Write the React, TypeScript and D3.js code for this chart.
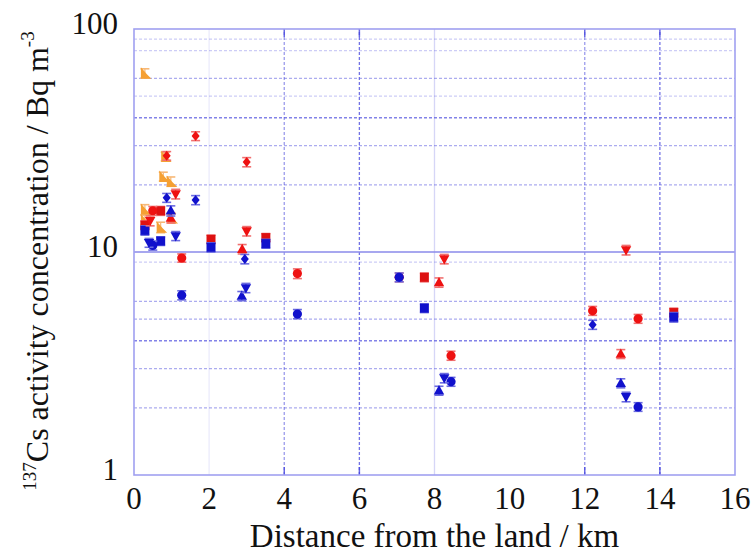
import React from 'react';
import * as d3 from 'd3';

const W = 755;
const H = 555;

// ---- data ----
const xTicks = [0, 2, 4, 6, 8, 10, 12, 14, 16];
const yTicks = [1, 10, 100];
const hGridValues = [2, 3, 4, 5, 6, 9, 20, 30, 40, 50, 60, 80, 90];
const vGridValues = [2, 4, 6, 8, 12, 14];

const orangeX = [0.29, 0.83, 0.78, 0.98, 0.29, 0.29, 0.71, 1.0];
const orangeY = [63.3, 26.8, 21.8, 20.7, 15.5, 13.9, 12.9, 14.2];
const orangeE = [3.0, 1.2, 1.0, 1.0, 0.8, 0.7, 0.7, 0.7];

const redSquareX = [0.29, 0.71, 2.05, 3.51, 7.73, 14.37];
const redSquareY = [13.2, 15.3, 11.4, 11.6, 7.7, 5.35];
const redSquareE = [0.6, 0.7, 0.5, 0.5, 0.35, 0.25];

const blueSquareX = [0.29, 0.71, 2.05, 3.51, 7.73, 14.37];
const blueSquareY = [12.5, 11.2, 10.5, 10.9, 5.6, 5.1];
const blueSquareE = [0.6, 0.5, 0.5, 0.5, 0.25, 0.25];

const redCircleX = [0.5, 1.27, 4.35, 7.06, 8.44, 12.21, 13.42];
const redCircleY = [15.3, 9.4, 8.0, 7.7, 3.43, 5.45, 5.02];
const redCircleE = [0.7, 0.4, 0.4, 0.35, 0.16, 0.25, 0.23];

const blueCircleX = [0.5, 1.27, 4.35, 7.06, 8.44, 13.42];
const blueCircleY = [10.7, 6.4, 5.27, 7.7, 2.62, 2.02];
const blueCircleE = [0.5, 0.3, 0.25, 0.35, 0.12, 0.09];

const redUpX = [0.98, 2.88, 8.12, 12.96];
const redUpY = [14.2, 10.3, 7.3, 3.49];
const redUpE = [0.7, 0.5, 0.35, 0.16];

const blueUpX = [0.98, 2.87, 8.12, 12.96];
const blueUpY = [15.3, 6.35, 2.39, 2.58];
const blueUpE = [0.8, 0.3, 0.11, 0.12];

const redDownX = [0.43, 1.11, 3.0, 8.26, 13.1];
const redDownY = [13.8, 18.2, 12.4, 9.3, 10.2];
const redDownE = [0.7, 0.9, 0.6, 0.45, 0.5];

const blueDownX = [0.4, 1.11, 2.98, 8.26, 13.1];
const blueDownY = [11.0, 11.8, 6.9, 2.72, 2.24];
const blueDownE = [0.5, 0.55, 0.33, 0.13, 0.11];

const redDiamondX = [0.87, 1.64, 3.0];
const redDiamondY = [27.0, 33.1, 25.3];
const redDiamondE = [1.2, 1.5, 1.2];

const blueDiamondX = [0.87, 1.64, 2.95, 12.21];
const blueDiamondY = [17.5, 17.1, 9.3, 4.72];
const blueDiamondE = [0.8, 0.8, 0.45, 0.22];

type Shape = 'square' | 'circle' | 'up' | 'down' | 'diamond' | 'flag';
interface Series { xs: number[]; ys: number[]; es: number[]; shape: Shape; color: string; cap: string; }

const RED = '#ee1111';
const BLUE = '#1111cc';
const ORANGE = '#f5a033';

const series: Series[] = [
  { xs: orangeX, ys: orangeY, es: orangeE, shape: 'flag', color: ORANGE, cap: '#f7b877' },
  { xs: redSquareX, ys: redSquareY, es: redSquareE, shape: 'square', color: '#dd1111', cap: '#f07070' },
  { xs: blueSquareX, ys: blueSquareY, es: blueSquareE, shape: 'square', color: BLUE, cap: '#6a6ae0' },
  { xs: redCircleX, ys: redCircleY, es: redCircleE, shape: 'circle', color: RED, cap: '#f07070' },
  { xs: redUpX, ys: redUpY, es: redUpE, shape: 'up', color: RED, cap: '#f07070' },
  { xs: redDownX, ys: redDownY, es: redDownE, shape: 'down', color: RED, cap: '#f07070' },
  { xs: redDiamondX, ys: redDiamondY, es: redDiamondE, shape: 'diamond', color: RED, cap: '#f07070' },
  { xs: blueCircleX, ys: blueCircleY, es: blueCircleE, shape: 'circle', color: BLUE, cap: '#6a6ae0' },
  { xs: blueUpX, ys: blueUpY, es: blueUpE, shape: 'up', color: BLUE, cap: '#6a6ae0' },
  { xs: blueDownX, ys: blueDownY, es: blueDownE, shape: 'down', color: BLUE, cap: '#6a6ae0' },
  { xs: blueDiamondX, ys: blueDiamondY, es: blueDiamondE, shape: 'diamond', color: BLUE, cap: '#6a6ae0' },
];

const x = d3.scaleLinear().domain([0, 16]).range([134, 735]);
const y = d3.scaleLog().domain([1, 100]).range([475, 29]);

const hOpacity = (v: number) => ([4, 40].includes(v) ? 0.75 : [90, 80, 50, 9].includes(v) ? 0.3 : 0.5);
const vOpacity = (v: number) => (v === 2 ? 0.12 : v === 8 ? 0.25 : v === 6 || v === 14 ? 0.85 : 0.6);

function marker(shape: Shape, color: string) {
  switch (shape) {
    case 'square':
      return <rect x={-4.5} y={-4.5} width={9} height={9} fill={color} />;
    case 'circle':
      return <circle r={4.6} fill={color} />;
    case 'up':
      return <path d="M0,-5.5L5.2,3.8L-5.2,3.8Z" fill={color} />;
    case 'down':
      return <path d="M0,5.5L5.2,-3.8L-5.2,-3.8Z" fill={color} />;
    case 'diamond':
      return <path d="M0,-5L4,0L0,5L-4,0Z" fill={color} />;
    case 'flag':
      return <path d="M-4,-6L-4,5.5L6.5,5.5L2,1Z" fill={color} />;
  }
}

export default function App() {
  const font = '"Liberation Serif", "Times New Roman", serif';
  return (
    <svg width={W} height={H} style={{ position: 'absolute', left: 0, top: 0, background: '#fff' }}>
      {/* grid */}
      {hGridValues.map((v) => (
        <line key={'h' + v} x1={x(0)} x2={x(16)} y1={y(v)} y2={y(v)} stroke="#5a5ae0"
          strokeOpacity={hOpacity(v)} strokeWidth={1.3} strokeDasharray="3,2" />
      ))}
      {vGridValues.map((v) => (
        <line key={'v' + v} x1={x(v)} x2={x(v)} y1={y(1)} y2={y(100)} stroke="#5a5ae0"
          strokeOpacity={vOpacity(v)} strokeWidth={1.3} strokeDasharray={v === 2 || v === 8 ? undefined : '3,2'} />
      ))}
      {[4, 6, 12, 14].map((v) => (
        <g key={'t' + v}>
          <line x1={x(v)} x2={x(v)} y1={y(100)} y2={y(100) + 8} stroke="#4444dd" strokeWidth={1.5} strokeOpacity={0.8} />
          <line x1={x(v)} x2={x(v)} y1={y(1)} y2={y(1) - 8} stroke="#4444dd" strokeWidth={1.5} strokeOpacity={0.8} />
        </g>
      ))}
      <line x1={x(0)} x2={x(16)} y1={y(10)} y2={y(10)} stroke="#8a8aea" strokeWidth={1.6} />
      <rect x={x(0)} y={y(100)} width={x(16) - x(0)} height={y(1) - y(100)} fill="none" stroke="#a0a0f0" strokeWidth={1.6} />

      {/* data */}
      {series.map((s, si) => (
        <g key={si}>
          {s.xs.map((xv, i) => {
            const cx = x(xv);
            const cy = y(s.ys[i]);
            const yt = y(s.ys[i] + s.es[i]);
            const yb = y(s.ys[i] - s.es[i]);
            return (
              <g key={i}>
                <line x1={cx} x2={cx} y1={yt} y2={yb} stroke={s.cap} strokeWidth={1.2} />
                <line x1={cx - 4.5} x2={cx + 4.5} y1={yt} y2={yt} stroke={s.cap} strokeWidth={1.6} />
                <line x1={cx - 4.5} x2={cx + 4.5} y1={yb} y2={yb} stroke={s.cap} strokeWidth={1.6} />
                <g transform={`translate(${cx},${cy})`}>{marker(s.shape, s.color)}</g>
              </g>
            );
          })}
        </g>
      ))}

      {/* axes labels */}
      {xTicks.map((t) => (
        <text key={'xt' + t} x={x(t)} y={509} textAnchor="middle" fontFamily={font} fontSize={31} fill="#111">{t}</text>
      ))}
      {yTicks.map((t) => (
        <text key={'yt' + t} x={118} y={y(t) + 5} textAnchor="end" fontFamily={font} fontSize={31} fill="#111">{t}</text>
      ))}
      <text x={(x(0) + x(16)) / 2} y={547} textAnchor="middle" fontFamily={font} fontSize={33} fill="#111">
        Distance from the land / km
      </text>
      <text transform="translate(48,261) rotate(-90)" textAnchor="middle" fontFamily={font} fontSize={32} fill="#111">
        <tspan fontSize={19} dy={-12}>137</tspan>
        <tspan dy={12}>Cs activity concentration / Bq m</tspan>
        <tspan fontSize={19} dy={-14}>-3</tspan>
      </text>
    </svg>
  );
}
